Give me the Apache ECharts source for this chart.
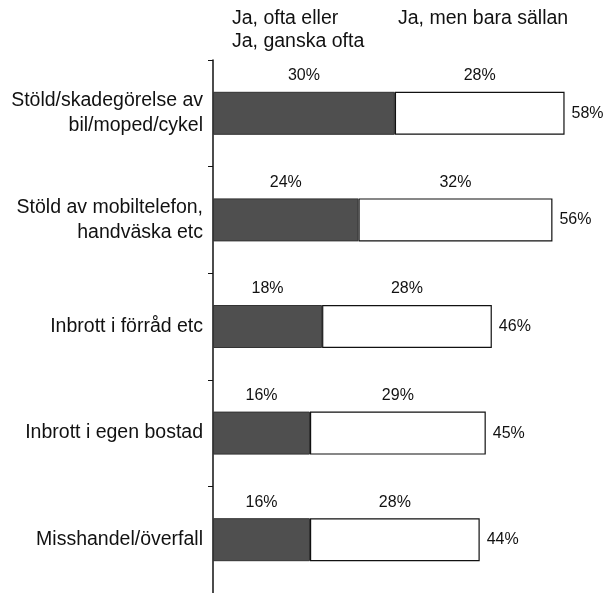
<!DOCTYPE html>
<html>
<head>
<meta charset="utf-8">
<script src="https://cdn.jsdelivr.net/npm/echarts@6/dist/echarts.min.js"></script>
<style>
  html, body { margin: 0; padding: 0; background: #fff; }
  #chart { width: 607px; height: 593px; }
</style>
</head>
<body>
<div id="chart"></div>
<script>
// kategorier, uppifrån och ned
var categories = [
  "Stöld/skadegörelse av\nbil/moped/cykel",
  "Stöld av mobiltelefon,\nhandväska etc",
  "Inbrott i förråd etc",
  "Inbrott i egen bostad",
  "Misshandel/överfall"
];
var oftaValues = [30, 24, 18, 16, 16];      // Ja, ofta eller Ja, ganska ofta
var sallanValues = [28, 32, 28, 29, 28];    // Ja, men bara sällan
var totalValues = [58, 56, 46, 45, 44];
var legendNames = ["Ja, ofta eller\nJa, ganska ofta", "Ja, men bara sällan"];

var font = "'Liberation Sans', Arial, sans-serif";
var chart = echarts.init(document.getElementById("chart"));

var pctLabel = {
  show: true,
  position: "top",
  distance: 8,
  formatter: "{c}%",
  color: "#111",
  fontSize: 16,
  fontFamily: font
};

chart.setOption({
  animation: false,
  grid: { left: 213, right: 0, top: 60, bottom: 0, containLabel: false },
  graphic: [
    {
      type: "text", left: 232, top: 7,
      style: { text: legendNames[0], font: "19.5px " + font, fill: "#111", lineHeight: 23 }
    },
    {
      type: "text", left: 398, top: 7,
      style: { text: legendNames[1], font: "19.5px " + font, fill: "#111", lineHeight: 23 }
    }
  ],
  xAxis: {
    type: "value",
    min: 0,
    max: 65,
    show: false
  },
  yAxis: {
    type: "category",
    data: categories,
    inverse: true,
    axisLine: { show: true, lineStyle: { color: "#111", width: 1.5 } },
    axisTick: { show: true, length: 5, lineStyle: { color: "#111" } },
    axisLabel: {
      color: "#111",
      fontSize: 19.5,
      fontFamily: font,
      lineHeight: 25,
      margin: 10,
      align: "right"
    }
  },
  series: [
    {
      name: "ofta",
      type: "bar",
      stack: "a",
      barWidth: 43,
      data: oftaValues,
      itemStyle: { color: "#4f4f4f", borderColor: "#333", borderWidth: 1 },
      label: pctLabel
    },
    {
      name: "sallan",
      type: "bar",
      stack: "a",
      barWidth: 43,
      data: sallanValues,
      itemStyle: { color: "#fff", borderColor: "#111", borderWidth: 1.2 },
      label: pctLabel
    },
    {
      // osynlig stapel för totalsumman till höger
      name: "total",
      type: "bar",
      barWidth: 43,
      barGap: "-100%",
      z: 1,
      data: totalValues,
      itemStyle: { color: "rgba(0,0,0,0)" },
      label: {
        show: true,
        position: "right",
        distance: 7,
        formatter: "{c}%",
        color: "#111",
        fontSize: 16,
        fontFamily: font
      }
    }
  ]
});
</script>
</body>
</html>
